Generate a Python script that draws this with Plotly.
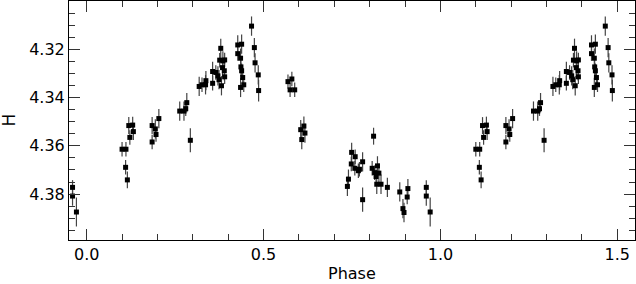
import plotly.graph_objects as go

# phase-folded H-band light curve (one cycle, drawn twice)
phase = [
    0.100, 0.111, 0.110, 0.115, 0.119, 0.130, 0.122, 0.132, 0.185, 0.194,
    0.196, 0.185, 0.204, 0.263, 0.275, 0.280, 0.283, 0.293, 0.318, 0.326,
    0.336, 0.337, 0.356, 0.356, 0.365, 0.371, 0.374, 0.381, 0.379, 0.376,
    0.385, 0.390, 0.384, 0.389, 0.390, 0.427, 0.438, 0.427, 0.435, 0.436,
    0.438, 0.441, 0.444, 0.435, 0.466, 0.474, 0.476, 0.485, 0.486, 0.569,
    0.580, 0.575, 0.588, 0.605, 0.614, 0.617, 0.608, 0.737, 0.740, 0.749,
    0.759, 0.748, 0.758, 0.768, 0.771, 0.780, 0.780, 0.811, 0.807, 0.822,
    0.814, 0.826, 0.818, 0.820, 0.832, 0.850, 0.885, 0.894, 0.897, 0.906,
    0.908, 0.960, 0.960, 0.971,
]
mag = [
    4.3614, 4.3614, 4.3689, 4.3741, 4.3516, 4.3514, 4.3565, 4.3541, 4.3516, 4.3530,
    4.3553, 4.3584, 4.3487, 4.3456, 4.3456, 4.3446, 4.3421, 4.3577, 4.3354, 4.3347,
    4.3347, 4.3330, 4.3341, 4.3292, 4.3296, 4.3310, 4.3326, 4.3351, 4.3196, 4.3245,
    4.3248, 4.3244, 4.3276, 4.3289, 4.3314, 4.3182, 4.3179, 4.3218, 4.3237, 4.3273,
    4.3289, 4.3317, 4.3347, 4.3358, 4.3104, 4.3193, 4.3256, 4.3306, 4.3371, 4.3334,
    4.3323, 4.3368, 4.3368, 4.3533, 4.3518, 4.3547, 4.3574, 4.3768, 4.3738, 4.3627,
    4.3645, 4.3675, 4.3693, 4.3703, 4.3697, 4.3666, 4.3823, 4.3560, 4.3693, 4.3683,
    4.3711, 4.3713, 4.3727, 4.3759, 4.3759, 4.3772, 4.3791, 4.3860, 4.3876, 4.3812,
    4.3777, 4.3772, 4.3808, 4.3874,
]
err = [
    0.0030, 0.0030, 0.0030, 0.0035, 0.0035, 0.0035, 0.0030, 0.0035, 0.0035, 0.0040,
    0.0030, 0.0030, 0.0040, 0.0040, 0.0040, 0.0030, 0.0040, 0.0050, 0.0040, 0.0030,
    0.0040, 0.0040, 0.0030, 0.0040, 0.0030, 0.0040, 0.0040, 0.0040, 0.0040, 0.0030,
    0.0040, 0.0030, 0.0040, 0.0040, 0.0030, 0.0040, 0.0040, 0.0030, 0.0040, 0.0040,
    0.0030, 0.0040, 0.0030, 0.0040, 0.0040, 0.0040, 0.0040, 0.0040, 0.0045, 0.0030,
    0.0030, 0.0030, 0.0030, 0.0040, 0.0040, 0.0040, 0.0040, 0.0040, 0.0040, 0.0040,
    0.0030, 0.0030, 0.0030, 0.0030, 0.0030, 0.0040, 0.0050, 0.0035, 0.0030, 0.0040,
    0.0030, 0.0040, 0.0030, 0.0040, 0.0040, 0.0040, 0.0040, 0.0040, 0.0040, 0.0030,
    0.0040, 0.0030, 0.0040, 0.0060,
]

x_min, x_max = -0.05, 1.55

xs, ys, es = [], [], []
for shift in (-1, 0, 1):
    for p, m, e in zip(phase, mag, err):
        if x_min <= p + shift <= x_max:
            xs.append(p + shift)
            ys.append(m)
            es.append(e)

FONT = "DejaVu Sans"

fig = go.Figure(
    go.Scatter(
        x=xs,
        y=ys,
        mode="markers",
        marker=dict(symbol="square", size=5, color="black"),
        error_y=dict(type="data", array=es, width=0, thickness=1.2, color="#444444"),
        showlegend=False,
    )
)

axis_common = dict(
    automargin=False,
    showgrid=False,
    zeroline=False,
    showline=True,
    linecolor="black",
    linewidth=1,
    mirror="allticks",
    ticks="inside",
    ticklen=11,
    tickwidth=1,
    tickcolor="#333333",
    tickfont=dict(family=FONT, size=16, color="black"),
)

fig.update_xaxes(
    **axis_common,
    range=[x_min, x_max],
    tick0=0,
    dtick=0.5,
    tickformat=".1f",
    minor=dict(ticks="inside", dtick=0.1, ticklen=6, tickcolor="#333333", showgrid=False),
)
fig.update_yaxes(
    **axis_common,
    range=[4.399, 4.30],
    tick0=4.30,
    dtick=0.02,
    tickformat=".2f",
    minor=dict(ticks="inside", dtick=0.005, ticklen=6, tickcolor="#333333", showgrid=False),
)

# axis titles as annotations so they sit where the reference puts them
fig.add_annotation(
    text="Phase", xref="paper", yref="paper", x=0.5, y=0,
    xanchor="center", yanchor="middle", yshift=-33, borderpad=0, showarrow=False,
    font=dict(family=FONT, size=16, color="black"),
)
fig.add_annotation(
    text="H", xref="paper", yref="paper", x=0, y=0.5,
    xanchor="center", yanchor="middle", xshift=-61, textangle=-90, showarrow=False,
    font=dict(family=FONT, size=17, color="black"),
)

fig.update_layout(
    width=636,
    height=284,
    margin=dict(l=69, r=1, t=1, b=44),
    paper_bgcolor="white",
    plot_bgcolor="white",
)

# drop the page's default body margin so the figure sits at the window origin
fig.write_html(
    "out.html",
    config={"displayModeBar": False},
    post_script="document.body.style.margin='0';",
)
